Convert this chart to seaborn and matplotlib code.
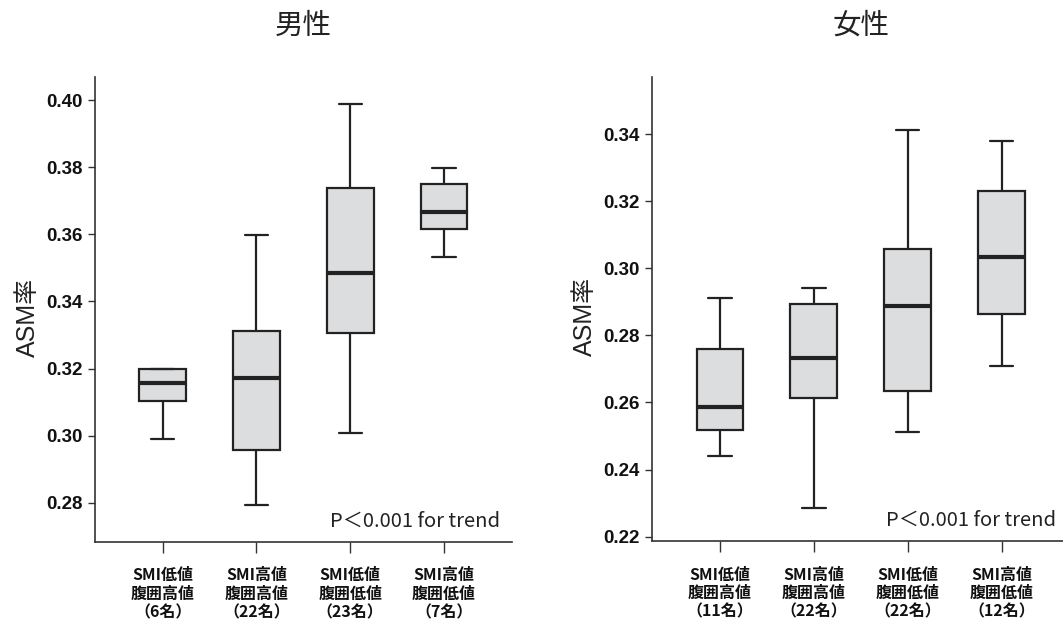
import numpy as np
import pandas as pd
import matplotlib
matplotlib.use('Agg')
import matplotlib.pyplot as plt
import seaborn as sns

# Box summaries: whisker min, Q1, median, Q3, whisker max
men_labels = ['SMI低値\n腹囲高値\n（6名）', 'SMI高値\n腹囲高値\n（22名）',
              'SMI低値\n腹囲低値\n（23名）', 'SMI高値\n腹囲低値\n（7名）']
men_min = [0.2989, 0.2793, 0.3009, 0.3532]
men_q1 = [0.3104, 0.2956, 0.3307, 0.3617]
men_med = [0.3158, 0.3173, 0.3485, 0.3666]
men_q3 = [0.3198, 0.3311, 0.3739, 0.3751]
men_max = [0.3198, 0.3597, 0.3987, 0.3798]

women_labels = ['SMI低値\n腹囲高値\n（11名）', 'SMI高値\n腹囲高値\n（22名）',
                'SMI低値\n腹囲低値\n（22名）', 'SMI高値\n腹囲低値\n（12名）']
women_min = [0.2439, 0.2284, 0.2512, 0.2708]
women_q1 = [0.2519, 0.2612, 0.2634, 0.2863]
women_med = [0.2586, 0.2733, 0.2888, 0.3033]
women_q3 = [0.2758, 0.2893, 0.3058, 0.3229]
women_max = [0.2911, 0.2940, 0.3412, 0.3380]

men_yticks = [0.28, 0.30, 0.32, 0.34, 0.36, 0.38, 0.40]
women_yticks = [0.22, 0.24, 0.26, 0.28, 0.30, 0.32, 0.34]


def five_num_frame(labels, mn, q1, med, q3, mx):
    # five points per group reproduce the quartiles exactly
    rows = []
    for i, lab in enumerate(labels):
        for v in (mn[i], q1[i], med[i], q3[i], mx[i]):
            rows.append({'group': lab, 'value': v})
    return pd.DataFrame(rows)


men = five_num_frame(men_labels, men_min, men_q1, men_med, men_q3, men_max)
women = five_num_frame(women_labels, women_min, women_q1, women_med, women_q3, women_max)

sns.set_style("ticks")
plt.rcParams['font.family'] = ['Liberation Sans', 'Noto Sans CJK JP', 'DejaVu Sans']

W, H = 1063, 626
fig = plt.figure(figsize=(W / 100, H / 100), dpi=100)
ax1 = fig.add_axes([95 / W, 1 - 541.7 / H, (511.7 - 95) / W, (541.7 - 77.3) / H])
ax2 = fig.add_axes([652.3 / W, 1 - 541 / H, (W - 652.3) / W, (541 - 76.7) / H])

edge = '#222222'
panels = [
    (ax1, men, men_labels, men_yticks, (0.2684, 0.4068), (-0.722, 3.722), '男性', 303.3, 3.598),
    (ax2, women, women_labels, women_yticks, (0.2187, 0.3571), (-0.721, 3.654), '女性', 861, 3.578),
]

for ax, df, labels, yticks, ylim, xlim, title, tx, px in panels:
    sns.boxplot(data=df, x='group', y='value', order=labels, ax=ax,
                color='#dcdddf', saturation=1, width=0.5, whis=(0, 100),
                linecolor=edge, linewidth=1.6, showfliers=False,
                medianprops=dict(linewidth=3, color=edge))
    ax.set_ylim(*ylim)
    ax.set_xlim(*xlim)
    ax.set_yticks(yticks, labels=[f'{t:.2f}' for t in yticks],
                  fontsize=13.5, fontweight='bold', color='#111111',
                  family=['Liberation Sans'])
    ax.set_xticks(range(len(labels)), labels=labels, fontsize=11.5,
                  fontweight='bold', color='#111111',
                  family=['Noto Sans CJK JP'], linespacing=1.2)
    ax.tick_params(axis='y', length=5, width=1, pad=4, color='#333333')
    ax.tick_params(axis='x', length=8, width=1, pad=10.5, color='#333333')
    ax.set_xlabel('')
    ax.set_ylabel('ASM率', fontsize=18, color='#222222',
                  family=['Liberation Sans', 'Noto Sans CJK JP'])
    ax.yaxis.set_label_coords(-55 / (ax.get_position().width * W), 0.483)
    sns.despine(ax=ax)
    for s in ('left', 'bottom'):
        ax.spines[s].set_color('#333333')
        ax.spines[s].set_linewidth(1.2)
    ax.text(px, 0.033, 'P＜0.001 for trend', transform=ax.get_xaxis_transform(),
            ha='right', va='baseline', fontsize=14.5, color='#222222',
            family=['Noto Sans CJK JP'])
    fig.text(tx / W, 1 - 26 / H, title, ha='center', va='center',
             fontsize=20.5, color='#222222', family=['Noto Sans CJK JP'])

fig.savefig('out.png', dpi=100)
